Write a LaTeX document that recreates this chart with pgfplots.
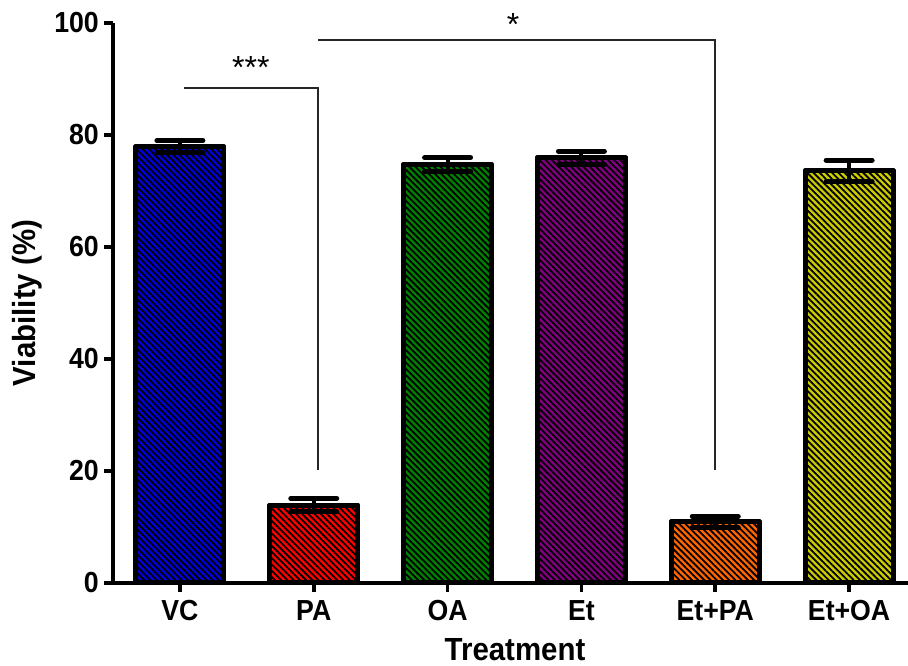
\documentclass[border=0pt]{standalone}
\usepackage{pgfplots}
\pgfplotsset{compat=1.18}
\usepackage{fontspec}
\setmainfont{Liberation Sans}
% slightly condensed face for the axis texts
\newfontfamily\labfont[FakeStretch=0.92]{Liberation Sans}
\usetikzlibrary{patterns.meta}

\definecolor{cVC}{RGB}{0,0,215}
\definecolor{cPA}{RGB}{255,0,0}
\definecolor{cOA}{RGB}{0,128,0}
\definecolor{cEt}{RGB}{128,0,128}
\definecolor{cEtPA}{RGB}{255,102,0}
\definecolor{cEtOA}{RGB}{204,204,0}

% hatched bar with a thick outline and capped error bars
\pgfplotsset{
  hbar/.style={
    ybar, bar width=88pt, draw=black, line width=5pt, line join=round,
    fill=#1,
    postaction={pattern={Lines[angle=-45,distance=4.4pt,line width=1.8pt]},
                pattern color=black},
    error bars/.cd, y dir=both, y explicit,
    error bar style={line width=4pt, black},
    error mark options={rotate=90, mark size=23pt, line width=5pt,
                        line cap=round, black}
  },
}

\begin{document}
\begin{tikzpicture}
\path[use as bounding box] (-113pt,-83pt) rectangle (795pt,583pt);
\begin{axis}[
  scale only axis, width=795pt, height=560pt,
  xmin=-0.5, xmax=5.44, ymin=0, ymax=100,
  axis x line*=bottom, axis y line*=left,
  axis line style={line width=3.6pt},
  xtick={0,1,2,3,4,5},
  xticklabels={VC,PA,OA,Et,Et+PA,Et+OA},
  ytick={0,20,40,60,80,100},
  tick align=outside, major tick length=9pt,
  every tick/.style={black, line width=3.6pt},
  /pgf/number format/assume math mode=true,
  xticklabel style={font=\labfont\fontsize{29}{32}\selectfont\bfseries,
                    inner sep=0pt, yshift=-8pt},
  yticklabel style={font=\labfont\fontsize{29}{32}\selectfont\bfseries,
                    inner sep=0pt, xshift=-5pt},
  xlabel={Treatment}, ylabel={Viability (\%)},
  label style={font=\labfont\fontsize{32}{36}\selectfont\bfseries},
  xlabel style={at={(axis description cs:0.5057,-0.1390)}, anchor=base,
                inner sep=0pt},
  ylabel style={at={(axis description cs:-0.1082,0.5)}, anchor=center},
  clip=false,
]
\addplot[hbar=cVC]   coordinates {(0,77.9) +- (0,1.1)};
\addplot[hbar=cPA]   coordinates {(1,13.9) +- (0,1.2)};
\addplot[hbar=cOA]   coordinates {(2,74.7) +- (0,1.25)};
\addplot[hbar=cEt]   coordinates {(3,75.9) +- (0,1.2)};
\addplot[hbar=cEtPA] coordinates {(4,10.9) +- (0,1.0)};
\addplot[hbar=cEtOA] coordinates {(5,73.6) +- (0,1.9)};

% significance brackets
\addplot[black!85, line width=1.8pt, no markers] coordinates {(0.03,88.4) (1.03,88.4) (1.03,20.2)};
\addplot[black!85, line width=1.8pt, no markers] coordinates {(1.03,96.9) (4.0,96.9) (4.0,20.2)};
\node[font=\fontsize{32}{34}\selectfont] at (axis cs:0.53,92) {***};
\node[font=\fontsize{32}{34}\selectfont] at (axis cs:2.49,99.8) {*};
\end{axis}
\end{tikzpicture}
\end{document}
